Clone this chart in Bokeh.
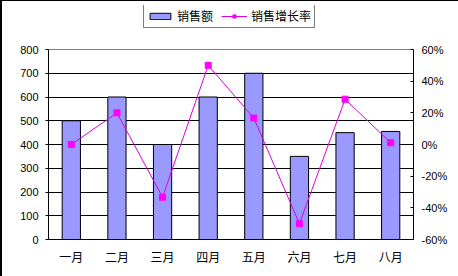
from bokeh.plotting import figure
from bokeh.models import (ColumnDataSource, Range1d, LinearAxis, FixedTicker,
                          NumeralTickFormatter, Legend, LegendItem, FactorRange, Grid)
from bokeh.embed import file_html
from bokeh.resources import INLINE

months = ["一月", "二月", "三月", "四月", "五月", "六月", "七月", "八月"]
sales = [500, 600, 400, 600, 700, 350, 450, 455]
growth = [0.0, 0.20, -0.333, 0.50, 0.167, -0.50, 0.286, 0.011]
left_ticks = [0, 100, 200, 300, 400, 500, 600, 700, 800]
right_ticks = [-0.6, -0.4, -0.2, 0.0, 0.2, 0.4, 0.6]

# layout: frame spans 4..238 px vertically; data area is 48..238
FRAME_H, DATA_H = 234, 190
y_end = left_ticks[-1] * FRAME_H / DATA_H
p_lo, p_hi = right_ticks[0], right_ticks[-1]
p_end = p_lo + (p_hi - p_lo) * FRAME_H / DATA_H

src = ColumnDataSource(dict(m=months, s=sales, g=growth))

p = figure(width=458, height=276, x_range=FactorRange(*months, range_padding=0),
           y_range=Range1d(0, y_end), output_backend="svg", toolbar_location=None,
           min_border_left=46, min_border_right=47, min_border_top=4,
           min_border_bottom=38)
p.extra_y_ranges = {"pct": Range1d(p_lo, p_end)}
p.background_fill_color = "white"
p.border_fill_color = "white"
p.outline_line_color = None

p.xgrid.visible = False
p.ygrid.grid_line_color = "black"
p.ygrid.grid_line_width = 1
p.ygrid.ticker = FixedTicker(ticks=left_ticks[:-1])
top_grid = Grid(dimension=1, ticker=FixedTicker(ticks=[left_ticks[-1]]),
                grid_line_color="#808080", grid_line_width=1)
p.add_layout(top_grid)

bars = p.vbar(x="m", top="s", width=0.4, source=src, fill_color="#9999FF",
              line_color="black", line_width=1)
ln = p.line(x="m", y="g", source=src, y_range_name="pct", line_color="#DD00DD",
            line_width=1)
mk = p.scatter(x="m", y="g", source=src, y_range_name="pct", marker="square",
               size=6, fill_color="#FF00FF", line_color="#FF00FF")

ya = p.yaxis[0]
ya.ticker = FixedTicker(ticks=left_ticks)
ya.bounds = (left_ticks[0], left_ticks[-1])
ya.axis_line_color = "black"
ya.major_tick_line_color = "black"
ya.major_tick_in = 0
ya.major_tick_out = 3
ya.minor_tick_line_color = None
ya.major_label_text_font = "Liberation Sans"
ya.major_label_text_font_size = "11px"
ya.major_label_text_color = "black"
ya.major_label_standoff = 7

ra = LinearAxis(y_range_name="pct", ticker=FixedTicker(ticks=right_ticks),
                formatter=NumeralTickFormatter(format="0%"),
                bounds=(p_lo, p_hi))
ra.axis_line_color = "black"
ra.major_tick_line_color = "black"
ra.major_tick_in = 3
ra.major_tick_out = 0
ra.minor_tick_line_color = None
ra.major_label_text_font = "Liberation Sans"
ra.major_label_text_font_size = "11px"
ra.major_label_text_color = "black"
ra.major_label_standoff = 8
p.add_layout(ra, "right")

xa = p.xaxis[0]
xa.axis_line_color = "black"
xa.major_tick_line_color = None
xa.minor_tick_line_color = None
xa.major_label_text_font = "Noto Sans CJK SC"
xa.major_label_text_font_size = "12px"
xa.major_label_text_color = "black"
xa.major_label_standoff = 2

legend = Legend(items=[LegendItem(label="销售额", renderers=[bars]),
                       LegendItem(label="销售增长率", renderers=[ln, mk])],
                orientation="horizontal", location=(95, 211))
legend.border_line_color = "black"
legend.border_line_width = 1
legend.background_fill_color = "white"
legend.background_fill_alpha = 1
legend.label_text_font = "Noto Sans CJK SC"
legend.label_text_font_size = "12px"
legend.label_text_color = "black"
legend.glyph_width = 26
legend.glyph_height = 8
legend.label_standoff = 4
legend.spacing = 8
legend.padding = 3
legend.margin = 0
legend.label_height = 14
p.add_layout(legend, "center")

p.styles = {"border-top": "1px solid black", "border-left": "2px solid black",
            "box-sizing": "border-box"}

open("out.html", "w").write(file_html(p, INLINE))
